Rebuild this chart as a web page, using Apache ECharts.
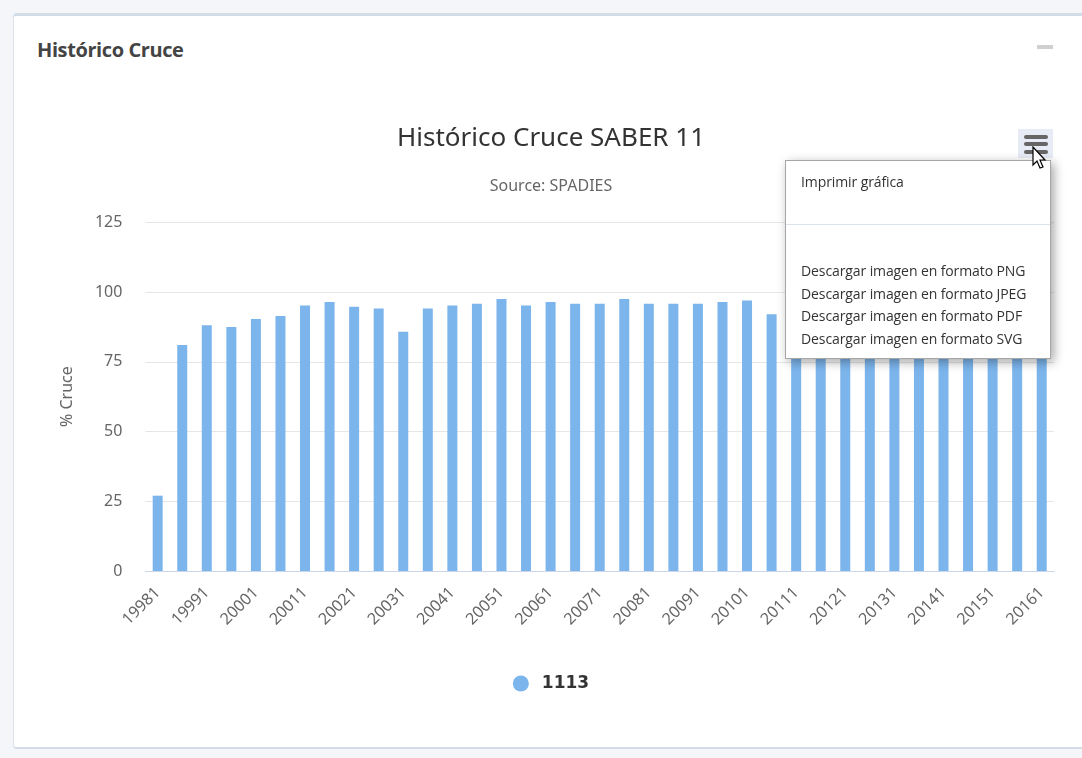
<!DOCTYPE html>
<html>
<head>
<meta charset="utf-8">
<script src="https://cdn.jsdelivr.net/npm/echarts@6/dist/echarts.min.js"></script>
<style>
  html, body { margin:0; padding:0; width:1082px; height:758px; overflow:hidden; background:#f4f6f9; font-family:"Noto Sans", sans-serif; }
  .card { position:absolute; left:13px; top:13px; width:1100px; height:736px; background:#fff;
          border:1px solid #dbe2ea; border-top:3px solid #d3dde7; border-bottom:2px solid #d3dde7; border-radius:4px; box-sizing:border-box; }
  .card-title { position:absolute; left:37px; top:36px; font-family:"Open Sans", sans-serif; font-weight:bold; font-size:20px; color:#444; letter-spacing:-0.4px; }
  .minimize { position:absolute; left:1037px; top:45px; width:16px; height:4px; background:#cfcfcf; }
  #chart { position:absolute; left:0; top:0; width:1102px; height:758px; }
  .btn { position:absolute; left:1018px; top:129px; width:35px; height:29px; background:#e6ebf5; }
  .btn i { position:absolute; left:6px; width:24px; height:4px; background:#666; border-radius:2px; }
  .menu { position:absolute; left:785px; top:160px; width:266px; height:199px; background:#fff; border:1px solid #a6a6a6;
          box-shadow:3px 3px 10px rgba(0,0,0,0.35); box-sizing:border-box; font-family:"Open Sans", sans-serif; font-size:14px; color:#333; }
  .menu div { position:absolute; left:15px; white-space:nowrap; line-height:18px; letter-spacing:-0.1px; }
  .menu hr { position:absolute; left:0; top:63px; width:100%; margin:0; border:0; border-top:1px solid #dde3ea; }
  .cursor { position:absolute; left:1032px; top:146px; }
</style>
</head>
<body>
<div class="card"></div>
<div class="card-title">Histórico Cruce</div>
<div class="minimize"></div>
<div id="chart"></div>
<div class="btn"><i style="top:6px"></i><i style="top:13px"></i><i style="top:21px"></i></div>
<div class="menu">
  <div style="top:12px">Imprimir gráfica</div>
  <hr>
  <div style="top:101px">Descargar imagen en formato PNG</div>
  <div style="top:124px">Descargar imagen en formato JPEG</div>
  <div style="top:146px">Descargar imagen en formato PDF</div>
  <div style="top:169px">Descargar imagen en formato SVG</div>
</div>
<svg class="cursor" width="16" height="26" viewBox="0 0 16 26"><path d="M1 1 L1 19 L5 15 L8 22 L11 21 L8 14 L13 14 Z" fill="#fff" stroke="#000" stroke-width="1.2"/></svg>
<script>
var categories = ['19981','19982','19991','19992','20001','20002','20011','20012','20021','20022',
  '20031','20032','20041','20042','20051','20052','20061','20062','20071','20072',
  '20081','20082','20091','20092','20101','20102','20111','20112','20121','20122',
  '20131','20132','20141','20142','20151','20152','20161'];
var values = [27, 81, 88.1, 87.5, 90.3, 91.4, 95.2, 96.4, 94.7, 94.1,
  85.8, 94.1, 95.2, 95.8, 97.5, 95.2, 96.4, 95.8, 95.8, 97.5,
  95.8, 95.8, 95.8, 96.4, 97, 92, 93, 94, 95, 95,
  96, 95, 96, 95, 96, 95, 96];
var seriesName = '1113';

var chart = echarts.init(document.getElementById('chart'));
chart.setOption({
  backgroundColor: 'transparent',
  animation: false,
  textStyle: { fontFamily: 'Noto Sans' },
  title: [
    { text: 'Histórico Cruce SABER 11', left: 'center', top: 126, padding: 0,
      textStyle: { fontSize: 26, fontWeight: 'normal', color: '#333' } },
    { text: 'Source: SPADIES', left: 'center', top: 178, padding: 0,
      textStyle: { fontSize: 16, fontWeight: 'normal', color: '#666' } }
  ],
  legend: {
    top: 670, left: 'center', icon: 'circle', itemWidth: 16, itemHeight: 16,
    textStyle: { fontFamily: 'DejaVu Sans', fontWeight: 'bold', fontSize: 17, color: '#333', padding: [0, 0, 0, 8] },
    data: [seriesName]
  },
  grid: { left: 145.4, right: 48, top: 222.3, bottom: 187, containLabel: false },
  xAxis: {
    type: 'category',
    data: categories,
    axisLine: { lineStyle: { color: '#ccd6eb' } },
    axisTick: { interval: 1, alignWithLabel: true, length: 12, lineStyle: { color: '#ccd6eb' } },
    axisLabel: { interval: 1, rotate: 45, margin: 19, fontSize: 16, color: '#666' }
  },
  yAxis: {
    type: 'value', min: 0, max: 125, interval: 25,
    name: '% Cruce', nameLocation: 'middle', nameGap: 70,
    nameTextStyle: { fontSize: 16, color: '#666' },
    axisLine: { show: false }, axisTick: { show: false },
    axisLabel: { margin: 23, fontSize: 16, color: '#666' },
    splitLine: { lineStyle: { color: '#e6e6e6' } }
  },
  series: [{
    name: seriesName, type: 'bar', data: values, barWidth: 10,
    itemStyle: { color: '#7cb5ec' }
  }]
});
</script>
</body>
</html>
